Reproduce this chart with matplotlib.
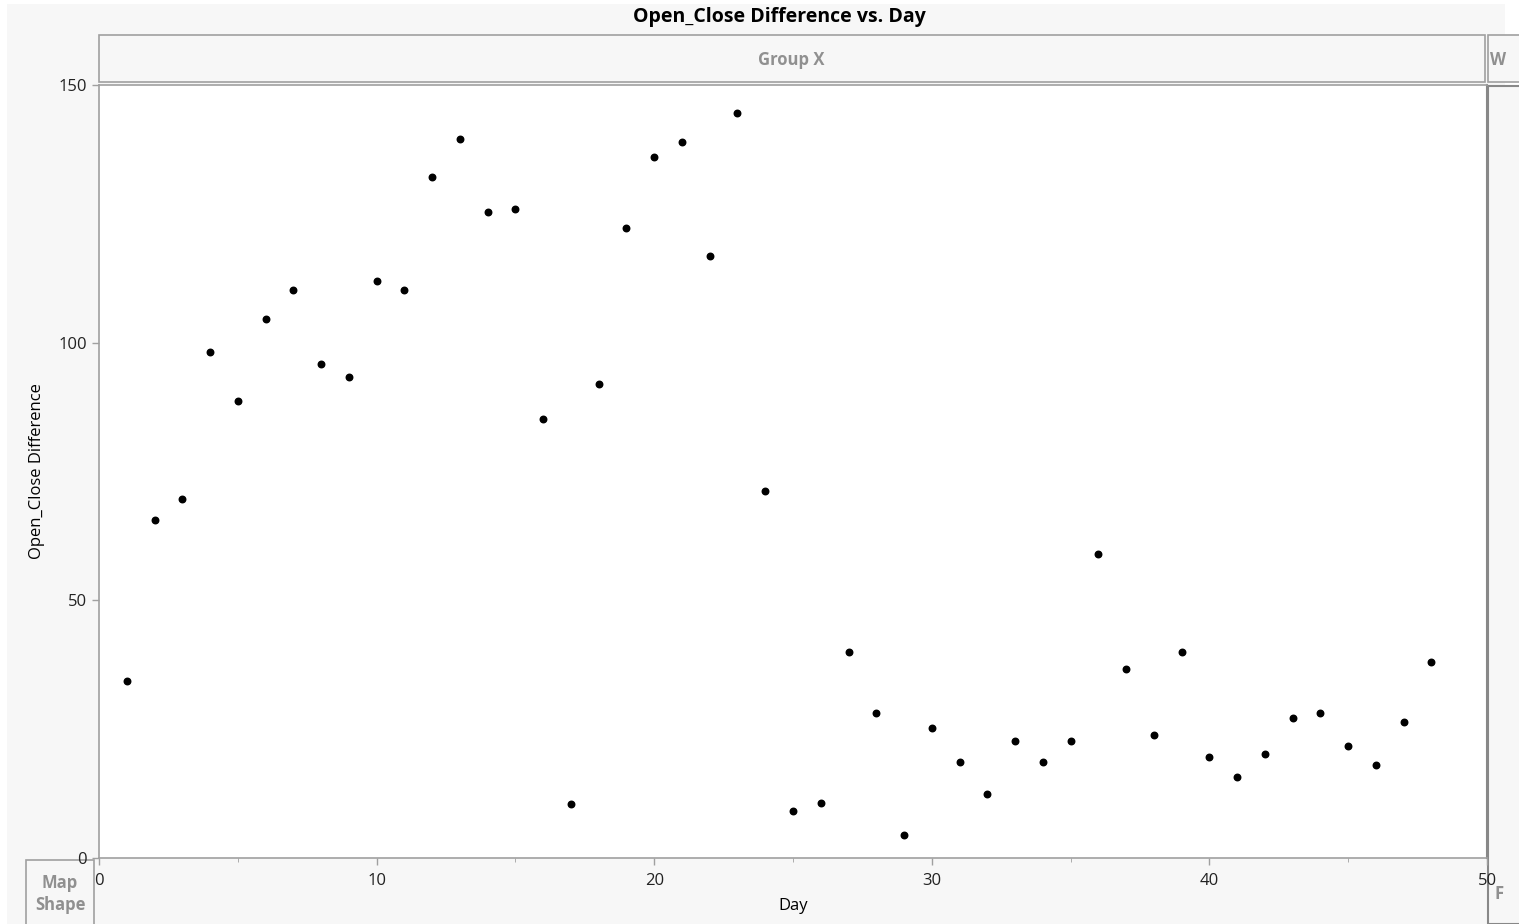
import matplotlib
matplotlib.use("Agg")
import matplotlib.pyplot as plt
from matplotlib.patches import Rectangle

plt.rcParams["font.family"] = ["Open Sans", "DejaVu Sans"]

# data
day = list(range(1, 49))
diff = [34.3, 65.6, 69.7, 98.2, 88.7, 104.6, 110.2, 95.9, 93.3, 112.0,
        110.2, 132.2, 139.5, 125.4, 125.9, 85.2, 10.5, 92.0, 122.3, 136.0,
        138.9, 116.8, 144.6, 71.2, 9.1, 10.7, 40.0, 28.1, 4.5, 25.2,
        18.6, 12.4, 22.7, 18.6, 22.7, 59.0, 36.7, 23.9, 40.0, 19.6,
        15.7, 20.2, 27.2, 28.1, 21.7, 18.0, 26.4, 38.0]
x_ticks = [0, 10, 20, 30, 40, 50]
y_ticks = [0, 50, 100, 150]

W, H = 1519, 924
bg = "#f7f7f7"
edge = "#a0a0a0"

def fx(px):
    return px / W

def fy(py):
    return 1 - py / H

fig = plt.figure(figsize=(W / 100, H / 100), dpi=100)
fig.patch.set_facecolor("white")

# gray background of the whole window
fig.add_artist(Rectangle((fx(7), fy(924)), fx(1505) - fx(7), fy(4) - fy(924),
                         transform=fig.transFigure, facecolor=bg, edgecolor="none", zorder=-2))

# header box "Group X"
fig.add_artist(Rectangle((fx(99), fy(82)), fx(1485) - fx(99), fy(35) - fy(82),
                         transform=fig.transFigure, facecolor=bg, edgecolor=edge, lw=1.2, zorder=1))
fig.text(fx(791), fy(60), "Group X", ha="center", va="center", fontsize=12,
         fontweight="bold", color="#909090")
# small box on the right
fig.add_artist(Rectangle((fx(1488), fy(82)), fx(1525) - fx(1488), fy(35) - fy(82),
                         transform=fig.transFigure, facecolor=bg, edgecolor=edge, lw=1.2, zorder=1))
fig.text(fx(1490), fy(60), "W", ha="left", va="center", fontsize=12,
         fontweight="bold", color="#909090")
# right panel (below the axes so the "50" label shows on top)
fig.add_artist(Rectangle((fx(1488), fy(924)), fx(1525) - fx(1488), fy(86) - fy(924),
                         transform=fig.transFigure, facecolor=bg, edgecolor="#888888", lw=1.5, zorder=-1))
fig.text(fx(1494), fy(894), "F", ha="left", va="center", fontsize=12,
         fontweight="bold", color="#909090")
# Map Shape box
fig.add_artist(Rectangle((fx(26), fy(930)), fx(94) - fx(26), fy(860) - fy(930),
                         transform=fig.transFigure, facecolor=bg, edgecolor=edge, lw=1.2, zorder=-1))
fig.text(fx(60), fy(894), "Map\nShape", ha="center", va="center", fontsize=12,
         fontweight="bold", color="#909090", linespacing=1.3)

fig.text(fx(779), fy(17), "Open_Close Difference vs. Day", ha="center", va="center",
         fontsize=14, fontweight="bold", color="black")

ax = fig.add_axes([fx(99), fy(858), fx(1487) - fx(99), fy(85) - fy(858)])
ax.set_facecolor("white")
ax.scatter(day, diff, s=22, color="black", zorder=3, clip_on=False)
ax.set_xlim(0, 50)
ax.set_ylim(0, 150)
ax.set_xticks(x_ticks)
ax.set_yticks(y_ticks)
ax.set_xticks(range(5, 50, 10), minor=True)
ax.tick_params(axis="both", labelsize=12, colors="#222222", length=5, width=1, color=edge)
ax.tick_params(axis="x", which="major", pad=6)
ax.tick_params(axis="x", which="minor", length=3, color=edge)
for s in ["left", "top", "bottom"]:
    ax.spines[s].set_color(edge)
    ax.spines[s].set_linewidth(1.2)
ax.spines["right"].set_color("#888888")
ax.spines["right"].set_linewidth(1.5)
ax.set_xlabel("Day", fontsize=12, labelpad=6)
ax.set_ylabel("Open_Close Difference", fontsize=12, labelpad=10)

fig.savefig("out.png", dpi=100)
